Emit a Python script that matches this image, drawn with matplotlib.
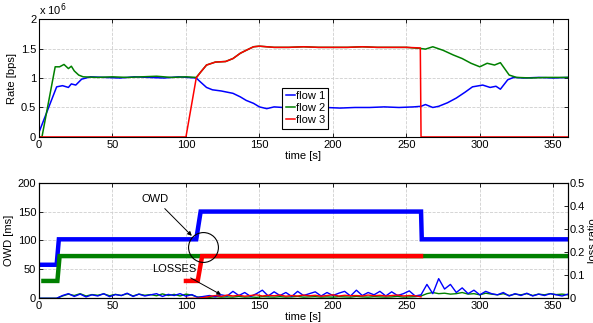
import numpy as np
import matplotlib
matplotlib.use('Agg')
import matplotlib.pyplot as plt

plt.rcParams['font.family'] = ['Liberation Sans', 'DejaVu Sans']
plt.rcParams['font.size'] = 8

# ---- rate data (x 10^6 bps) ----
t_rate1 = [0, 12, 16, 20, 22, 25, 29, 35, 45, 55, 65, 75, 85, 95, 107, 110, 114, 118, 124, 128,
           132, 137, 141, 146, 150, 155, 160, 166, 175, 185, 195, 205, 215, 225, 235, 245, 255,
           260, 263, 268, 272, 278, 284, 290, 295, 302, 307, 311, 314, 319, 323, 330, 340, 350, 360]
rate1 = [0.08, 0.85, 0.87, 0.84, 0.90, 0.88, 0.98, 1.02, 1.01, 1.00, 1.02, 1.01, 1.00, 1.02, 1.00,
         0.93, 0.84, 0.80, 0.78, 0.76, 0.74, 0.68, 0.62, 0.57, 0.51, 0.48, 0.51, 0.50, 0.50, 0.49,
         0.50, 0.49, 0.50, 0.50, 0.51, 0.50, 0.51, 0.52, 0.55, 0.50, 0.52, 0.58, 0.66, 0.76, 0.85,
         0.88, 0.84, 0.86, 0.81, 0.97, 1.01, 1.00, 1.01, 1.00, 1.01]

t_rate2 = [0, 2, 11, 14, 17, 20, 22, 24, 27, 30, 40, 50, 60, 70, 80, 90, 100, 107, 110, 114, 120,
           127, 132, 137, 141, 146, 150, 155, 160, 170, 180, 190, 200, 210, 220, 230, 240, 250,
           260, 263, 268, 275, 282, 288, 294, 300, 305, 310, 314, 320, 325, 335, 345, 360]
rate2 = [0, 0, 1.19, 1.19, 1.23, 1.16, 1.20, 1.12, 1.05, 1.02, 1.01, 1.02, 1.01, 1.02, 1.03, 1.01,
         1.02, 1.01, 1.10, 1.22, 1.27, 1.28, 1.33, 1.42, 1.47, 1.53, 1.54, 1.53, 1.52, 1.52, 1.53,
         1.52, 1.52, 1.52, 1.53, 1.52, 1.52, 1.52, 1.50, 1.49, 1.53, 1.47, 1.39, 1.33, 1.25, 1.19,
         1.25, 1.22, 1.26, 1.05, 1.01, 1.00, 1.01, 1.01]

t_rate3 = [0, 100, 107, 110, 114, 120, 127, 132, 137, 141, 146, 150, 155, 160, 170, 180, 190, 200,
           210, 220, 230, 240, 250, 259.5, 260, 360]
rate3 = [0, 0, 1.00, 1.10, 1.22, 1.27, 1.28, 1.33, 1.42, 1.47, 1.53, 1.54, 1.53, 1.52, 1.52, 1.53,
         1.52, 1.52, 1.52, 1.53, 1.52, 1.52, 1.52, 1.51, 0, 0]

# ---- one way delay (ms) ----
t_owd1 = [0, 12, 13.5, 107, 110, 260, 260.5, 360]
owd1 = [58, 58, 102, 102, 150, 150, 102, 102]
t_owd2 = [3, 12.5, 14, 360]
owd2 = [30, 30, 73, 73]
t_owd3 = [100, 108, 111, 260]
owd3 = [30, 30, 73, 73]

# ---- loss ratio, sampled every 4 s ----
t_loss = np.arange(0, 361, 4)
loss1 = [0, 0, 0, 0,
         0.012, 0.02, 0.008, 0.018, 0.006, 0.015, 0.01, 0.02, 0.007, 0.016, 0.012, 0.022,
         0.008, 0.018, 0.01, 0.015, 0.02, 0.008, 0.017, 0.012, 0.02, 0.009, 0.016,
         0.004, 0.008, 0.012, 0.006, 0.015, 0.01, 0.03, 0.012, 0.025, 0.008, 0.02, 0.035,
         0.01, 0.028, 0.012, 0.025, 0.008, 0.03, 0.012, 0.02, 0.028, 0.01, 0.025, 0.012,
         0.022, 0.03, 0.01, 0.035, 0.012, 0.025, 0.015, 0.03, 0.01, 0.028, 0.012, 0.02,
         0.032, 0.01,
         0.015, 0.06, 0.02, 0.085, 0.04, 0.06, 0.025, 0.045, 0.02, 0.035, 0.015, 0.03, 0.02,
         0.015, 0.025, 0.01, 0.02, 0.012, 0.022, 0.01, 0.018, 0.012, 0.02, 0.015, 0.01, 0.018]
loss2 = [0, 0, 0, 0,
         0.01, 0.018, 0.012, 0.02, 0.01, 0.016, 0.013, 0.019, 0.011, 0.017, 0.012, 0.02,
         0.01, 0.018, 0.013, 0.016, 0.011, 0.019, 0.012, 0.017, 0.01, 0.018, 0.014,
         0.005, 0.006, 0.004, 0.007, 0.005, 0.006, 0.005, 0.008, 0.005, 0.006, 0.004, 0.007,
         0.006, 0.005, 0.007, 0.005, 0.006, 0.008, 0.005, 0.006, 0.007, 0.005, 0.006, 0.005,
         0.007, 0.006, 0.005, 0.008, 0.006, 0.005, 0.007, 0.006, 0.005, 0.006, 0.008, 0.005,
         0.006, 0.007,
         0.01, 0.02, 0.025, 0.02, 0.022, 0.018, 0.02, 0.025, 0.018, 0.02, 0.015, 0.022, 0.018,
         0.015, 0.02, 0.012, 0.018, 0.015, 0.02, 0.012, 0.018, 0.015, 0.02, 0.016, 0.018, 0.015]
t_loss3 = np.arange(100, 261, 4)
loss3 = [0, 0, 0, 0.003, 0.008, 0.012, 0.008, 0.014, 0.01, 0.013, 0.009, 0.012, 0.015, 0.01,
         0.013, 0.011, 0.014, 0.009, 0.012, 0.01, 0.014, 0.011, 0.013, 0.009, 0.012, 0.015, 0.01,
         0.013, 0.011, 0.012, 0.01, 0.014, 0.011, 0.013, 0.01, 0.012, 0.014, 0.01, 0.012, 0.011,
         0.006]

blue, green, red = (0, 0, 1), (0, 0.5, 0), (1, 0, 0)
xticks = [0, 50, 100, 150, 200, 250, 300, 350]


def style_axes(ax):
    ax.set_xlim(0, 360)
    ax.set_xticks(xticks)
    ax.grid(True, linestyle='--', color='#cfcfcf', linewidth=0.6)
    ax.tick_params(direction='in', length=3, width=0.6, top=True, labelsize=8, pad=2)
    for s in ax.spines.values():
        s.set_linewidth(0.8)


fig = plt.figure(figsize=(5.93, 3.23), dpi=100)

# top: rates
ax1 = fig.add_axes([0.0658, 0.576, 0.892, 0.365])
ax1.plot(t_rate1, rate1, color=blue, lw=1.1, label='flow 1')
ax1.plot(t_rate2, rate2, color=green, lw=1.1, label='flow 2')
ax1.plot(t_rate3, rate3, color=red, lw=1.1, label='flow 3')
style_axes(ax1)
ax1.tick_params(right=True)
ax1.set_ylim(0, 2)
ax1.set_yticks([0, 0.5, 1, 1.5, 2])
ax1.set_yticklabels(['0', '0.5', '1', '1.5', '2'])
ax1.set_ylabel('Rate [bps]', labelpad=3)
ax1.set_xlabel('time [s]', labelpad=1)
ax1.text(0.0, 1.01, r'x 10$^6$', transform=ax1.transAxes, fontsize=8, va='bottom')
leg = ax1.legend(loc='lower left', bbox_to_anchor=(0.46, 0.07), fontsize=8,
                 handlelength=0.8, handletextpad=0.1, borderpad=0.3, labelspacing=0.2,
                 fancybox=False, edgecolor='k', framealpha=1, borderaxespad=0)
leg.get_frame().set_linewidth(0.8)

# bottom: OWD + loss ratio
ax2 = fig.add_axes([0.0658, 0.0765, 0.892, 0.358])
ax2.plot(t_owd1, owd1, color=blue, lw=3.2, solid_joinstyle='miter')
ax2.plot(t_owd2, owd2, color=green, lw=3.2, solid_joinstyle='miter')
ax2.plot(t_owd3, owd3, color=red, lw=3.2, solid_joinstyle='miter')
style_axes(ax2)
ax2.set_ylim(0, 200)
ax2.set_yticks([0, 50, 100, 150, 200])
ax2.set_ylabel('OWD [ms]', labelpad=3)
ax2.set_xlabel('time [s]', labelpad=1)

ax3 = ax2.twinx()
ax3.plot(t_loss, loss2, color=green, lw=1.0)
ax3.plot(t_loss, loss1, color=blue, lw=1.0)
ax3.plot(t_loss3, loss3, color=red, lw=1.0)
ax3.set_xlim(0, 360)
ax3.set_ylim(0, 0.5)
ax3.set_yticks([0, 0.1, 0.2, 0.3, 0.4, 0.5])
ax3.set_yticklabels(['0', '0.1', '0.2', '0.3', '0.4', '0.5'])
ax3.tick_params(direction='in', length=3, width=0.6, labelsize=8, pad=1)
ax3.set_ylabel('loss ratio', labelpad=2)

# annotations
ax2.plot([111.6], [88.8], 'o', ms=21.5, mfc='none', mec='k', mew=0.8)
ax2.annotate('OWD', xy=(104, 108), xytext=(79, 172), ha='center', va='center', fontsize=8,
             arrowprops=dict(arrowstyle='-|>', color='k', lw=0.7, mutation_scale=6,
                             shrinkA=2, shrinkB=0))
ax2.annotate('LOSSES', xy=(124, 6), xytext=(92, 51), ha='center', va='center', fontsize=8,
             arrowprops=dict(arrowstyle='-|>', color='k', lw=0.7, mutation_scale=6,
                             shrinkA=2, shrinkB=0))

fig.savefig('out.png', dpi=100)
